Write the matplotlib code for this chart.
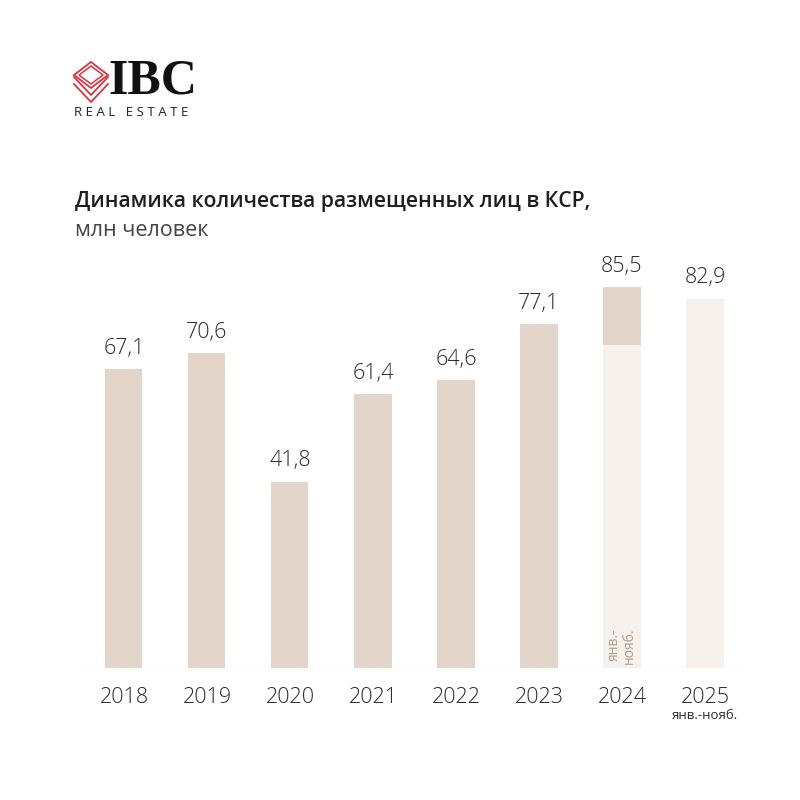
import matplotlib.pyplot as plt
from matplotlib.patches import Polygon
from matplotlib.lines import Line2D

plt.rcParams['font.family'] = ['Open Sans', 'DejaVu Sans']

# data
years = ['2018', '2019', '2020', '2021', '2022', '2023', '2024', '2025']
values = [67.1, 70.6, 41.8, 61.4, 64.6, 77.1, 85.5, 82.9]
labels = ['67,1', '70,6', '41,8', '61,4', '64,6', '77,1', '85,5', '82,9']
jan_nov_2024 = 72.5  # estimated from the light part of the 2024 bar

dark = '#e3d5ca'
light = '#f6f1ec'
text_col = '#2a2a2a'

fig = plt.figure(figsize=(8, 8), dpi=100)

# axes placed in pixel terms: baseline y=668, x from 78 to 748
ax = fig.add_axes([78 / 800, 132 / 800, 670 / 800, 445.6 / 800])
ax.set_xlim(-0.554, 7.518)
ax.set_ylim(0, 100)
w = 0.446
x = list(range(len(years)))

colors = [dark] * 7 + [light]
ax.bar(x, values, width=w, color=colors, zorder=2)
# 2024: lighter Jan-Nov part at the bottom
ax.bar(x[6], jan_nov_2024, width=w, color=light, zorder=3)

for xi, v, lab in zip(x, values, labels):
    ax.text(xi, v + 2.3, lab, ha='center', va='bottom', fontsize=15.5,
            color=text_col, fontweight='light')

ax.text(x[6], 1.0, 'янв.-\nнояб.', rotation=90, ha='center', va='bottom',
        fontsize=10, color='#b59e8c', linespacing=1.0, zorder=4)

ax.axhline(0, color='#ebebeb', lw=1, zorder=1)
ax.set_xticks(x)
ax.set_xticklabels(years, fontsize=15.5, color=text_col, fontweight='light')
ax.tick_params(axis='x', length=0, pad=14)
ax.set_yticks([])
for s in ax.spines.values():
    s.set_visible(False)

ax.text(x[7], -10.7, 'янв.-нояб.', ha='center', va='center', fontsize=9.5,
        color=text_col)

# title
fig.text(75 / 800, 1 - 201 / 800, 'Динамика количества размещенных лиц в КСР,',
         fontsize=15.2, fontweight='semibold', color='#1e1e1e', va='center')
fig.text(75 / 800, 1 - 231 / 800, 'млн человек', fontsize=15.5,
         color='#444444', va='center')

# logo
red = '#d9333f'


def px(points):
    return [(a / 800, 1 - b / 800) for a, b in points]


cx, cy = 91, 75
fig.patches.append(Polygon(px([(cx - 17, cy), (cx, cy - 13), (cx + 17, cy), (cx, cy + 13)]),
                           closed=True, fill=False, ec=red, lw=1.3,
                           transform=fig.transFigure))
fig.patches.append(Polygon(px([(cx - 12, cy), (cx, cy - 9), (cx + 12, cy), (cx, cy + 9)]),
                           closed=True, fill=False, ec=red, lw=1.1,
                           transform=fig.transFigure))
for dy in [7, 14]:
    xs, ys = zip(*px([(cx - 17, cy + dy - 5), (cx, cy + dy + 13), (cx + 17, cy + dy - 5)]))
    fig.lines.append(Line2D(xs, ys, color=red, lw=1.3, transform=fig.transFigure))
fig.text(108 / 800, 1 - 81 / 800, 'IBC', fontsize=36, fontweight='bold',
         family=['Liberation Serif', 'DejaVu Serif'], color='#111111',
         va='center')
fig.text(74 / 800, 1 - 112 / 800, 'R E A L   E S T A T E', fontsize=9.5,
         color='#222222', va='center')

fig.savefig('out.png', dpi=100, facecolor='white')
